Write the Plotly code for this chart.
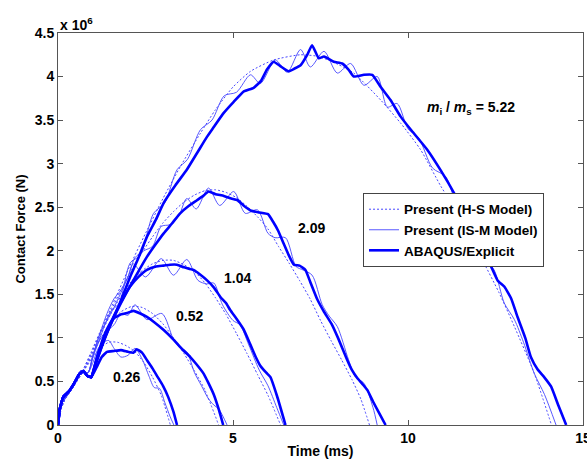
import plotly.graph_objects as go

# ---------------- data (time in ms, force in 1e6 N) ----------------
# mass ratio 0.26
HS_026_t = [0, 0.1, 0.25, 0.45, 0.7, 0.95, 1.2, 1.45, 1.7, 1.95, 2.2, 2.45, 2.7, 2.95, 3.21]
HS_026_y = [0, 0.2, 0.34, 0.45, 0.6, 0.75, 0.88, 0.95, 0.95, 0.91, 0.84, 0.72, 0.55, 0.34, 0]
ISM_026_t = [0, 0.1, 0.25, 0.45, 0.65, 0.85, 1.0, 1.15, 1.3, 1.45, 1.6, 1.8, 2.0, 2.2, 2.4, 2.6, 2.75, 2.9, 3.05, 3.2, 3.31]
ISM_026_y = [0, 0.25, 0.33, 0.45, 0.62, 0.6, 0.72, 0.88, 0.95, 0.97, 0.88, 0.78, 0.8, 0.88, 0.76, 0.56, 0.43, 0.42, 0.26, 0.1, 0]
AB_026_t = [0, 0.05, 0.15, 0.3, 0.45, 0.6, 0.72, 0.85, 0.95, 1.1, 1.25, 1.4, 1.6, 1.8, 2.0, 2.15, 2.25, 2.4, 2.55, 2.7, 2.85, 3.0, 3.15, 3.3, 3.4]
AB_026_y = [0, 0.18, 0.32, 0.38, 0.47, 0.58, 0.62, 0.56, 0.55, 0.66, 0.78, 0.84, 0.85, 0.86, 0.84, 0.83, 0.87, 0.83, 0.74, 0.65, 0.55, 0.45, 0.32, 0.15, 0]

# mass ratio 0.52
HS_052_t = [0, 0.1, 0.25, 0.45, 0.7, 0.95, 1.2, 1.5, 1.8, 2.1, 2.4, 2.7, 3.0, 3.3, 3.6, 3.9, 4.2, 4.59]
HS_052_y = [0, 0.2, 0.34, 0.45, 0.6, 0.78, 0.98, 1.17, 1.3, 1.36, 1.35, 1.28, 1.16, 1.0, 0.82, 0.62, 0.4, 0]
ISM_052_t = [0, 0.1, 0.25, 0.45, 0.65, 0.85, 1.0, 1.2, 1.4, 1.6, 1.8, 2.0, 2.2, 2.54, 2.97, 3.3, 3.45, 3.68, 3.9, 4.1, 4.3, 4.45, 4.6, 4.83]
ISM_052_y = [0, 0.25, 0.33, 0.45, 0.62, 0.6, 0.78, 0.98, 1.08, 1.15, 1.28, 1.26, 1.38, 1.21, 1.28, 0.98, 0.9, 0.84, 0.6, 0.45, 0.3, 0.23, 0.18, 0]
AB_052_t = [0, 0.05, 0.15, 0.3, 0.45, 0.6, 0.72, 0.85, 0.95, 1.1, 1.25, 1.4, 1.58, 1.8, 2.0, 2.16, 2.35, 2.54, 2.75, 3.02, 3.3, 3.48, 3.6, 3.78, 3.95, 4.16, 4.3, 4.45, 4.6, 4.72]
AB_052_y = [0, 0.18, 0.32, 0.38, 0.47, 0.58, 0.62, 0.56, 0.55, 0.75, 0.95, 1.1, 1.22, 1.27, 1.29, 1.31, 1.28, 1.24, 1.18, 1.09, 0.98, 0.9, 0.85, 0.78, 0.7, 0.59, 0.48, 0.35, 0.17, 0]

# mass ratio 1.04
HS_104_t = [0, 0.1, 0.25, 0.45, 0.7, 0.95, 1.2, 1.5, 1.8, 2.1, 2.4, 2.7, 3.0, 3.3, 3.6, 3.9, 4.2, 4.5, 4.8, 5.1, 5.4, 5.7, 6.0, 6.36]
HS_104_y = [0, 0.2, 0.34, 0.45, 0.6, 0.8, 1.02, 1.27, 1.48, 1.65, 1.77, 1.85, 1.89, 1.89, 1.84, 1.76, 1.63, 1.46, 1.27, 1.05, 0.82, 0.58, 0.34, 0]
ISM_104_t = [0, 0.1, 0.25, 0.45, 0.65, 0.85, 1.0, 1.2, 1.4, 1.6, 1.8, 2.0, 2.15, 2.5, 2.95, 3.3, 3.68, 4.0, 4.25, 4.45, 4.7, 5.0, 5.2, 5.45, 5.75, 6.0, 6.25, 6.45]
ISM_104_y = [0, 0.25, 0.33, 0.45, 0.62, 0.6, 0.8, 1.05, 1.2, 1.35, 1.52, 1.7, 1.85, 1.7, 1.91, 1.72, 1.9, 1.66, 1.62, 1.63, 1.38, 1.2, 1.15, 0.92, 0.63, 0.45, 0.2, 0]
AB_104_t = [0, 0.05, 0.15, 0.3, 0.45, 0.6, 0.72, 0.85, 0.95, 1.1, 1.25, 1.45, 1.68, 1.85, 2.06, 2.3, 2.54, 2.8, 3.02, 3.2, 3.4, 3.6, 3.87, 4.05, 4.26, 4.45, 4.64, 4.8, 4.92, 5.1, 5.3, 5.5, 5.65, 5.78, 5.95, 6.07, 6.26, 6.5]
AB_104_y = [0, 0.18, 0.32, 0.38, 0.47, 0.58, 0.62, 0.56, 0.55, 0.72, 0.9, 1.12, 1.32, 1.45, 1.59, 1.7, 1.78, 1.82, 1.83, 1.84, 1.84, 1.81, 1.78, 1.73, 1.66, 1.58, 1.47, 1.4, 1.32, 1.22, 1.1, 0.92, 0.78, 0.68, 0.6, 0.55, 0.33, 0]

# mass ratio 2.09
HS_209_t = [0, 0.1, 0.25, 0.45, 0.7, 0.95, 1.2, 1.5, 1.8, 2.1, 2.4, 2.7, 3.0, 3.3, 3.6, 3.9, 4.2, 4.5, 4.8, 5.1, 5.4, 5.7, 6.0, 6.3, 6.6, 6.9, 7.2, 7.5, 7.8, 8.1, 8.4, 8.65, 8.9]
HS_209_y = [0, 0.2, 0.34, 0.45, 0.62, 0.82, 1.05, 1.3, 1.55, 1.78, 1.98, 2.16, 2.32, 2.45, 2.56, 2.64, 2.69, 2.7, 2.67, 2.61, 2.51, 2.39, 2.25, 2.05, 1.86, 1.66, 1.45, 1.2, 0.97, 0.75, 0.52, 0.3, 0]
ISM_209_t = [0, 0.1, 0.25, 0.45, 0.65, 0.85, 1.0, 1.2, 1.4, 1.6, 1.8, 2.0, 2.2, 2.45, 2.7, 2.95, 3.2, 3.45, 3.68, 3.95, 4.3, 4.62, 5.02, 5.35, 5.7, 6.0, 6.2, 6.5, 6.8, 7.0, 7.26, 7.55, 7.75, 7.98, 8.3, 8.5, 8.74, 9.0, 9.12]
ISM_209_y = [0, 0.25, 0.33, 0.45, 0.62, 0.6, 0.8, 1.05, 1.28, 1.45, 1.55, 1.7, 1.92, 2.0, 2.05, 2.28, 2.3, 2.4, 2.6, 2.48, 2.72, 2.52, 2.68, 2.43, 2.47, 2.2, 2.15, 2.15, 1.82, 1.78, 1.72, 1.38, 1.25, 1.13, 0.75, 0.55, 0.48, 0.2, 0]
AB_209_t = [0, 0.05, 0.15, 0.3, 0.45, 0.6, 0.72, 0.85, 0.95, 1.1, 1.25, 1.5, 1.75, 2.0, 2.25, 2.54, 2.8, 3.02, 3.25, 3.49, 3.75, 3.97, 4.15, 4.3, 4.5, 4.74, 4.95, 5.13, 5.3, 5.52, 5.75, 6.0, 6.15, 6.29, 6.45, 6.58, 6.74, 6.9, 7.07, 7.2, 7.41, 7.6, 7.83, 8.0, 8.26, 8.4, 8.55, 8.7, 8.84, 9.0, 9.2, 9.36]
AB_209_y = [0, 0.18, 0.32, 0.38, 0.47, 0.58, 0.62, 0.56, 0.55, 0.74, 0.9, 1.15, 1.36, 1.55, 1.73, 1.93, 2.08, 2.2, 2.31, 2.43, 2.52, 2.58, 2.63, 2.68, 2.65, 2.63, 2.6, 2.58, 2.52, 2.46, 2.44, 2.42, 2.33, 2.23, 2.08, 1.96, 1.84, 1.83, 1.78, 1.65, 1.44, 1.3, 1.15, 1.0, 0.75, 0.63, 0.54, 0.47, 0.4, 0.27, 0.12, 0]

# mass ratio 5.22
HS_522_t = [0, 0.1, 0.25, 0.45, 0.7, 0.95, 1.2, 1.5, 2.0, 2.5, 3.0, 3.5, 4.07, 4.5, 5.0, 5.5, 6.16, 6.93, 7.45, 8.0, 8.45, 9.22, 9.8, 10.36, 10.94, 11.5, 12.08, 12.6, 13.04, 13.6, 14.1]
HS_522_y = [0, 0.2, 0.34, 0.45, 0.62, 0.84, 1.07, 1.33, 1.78, 2.2, 2.6, 2.97, 3.35, 3.62, 3.88, 4.06, 4.19, 4.25, 4.23, 4.14, 4.04, 3.73, 3.46, 3.16, 2.74, 2.38, 1.93, 1.52, 1.13, 0.6, 0]
ISM_522_t = [0, 0.1, 0.25, 0.45, 0.65, 0.85, 1.0, 1.2, 1.5, 1.75, 2.06, 2.35, 2.73, 3.05, 3.4, 3.7, 4.07, 4.4, 4.75, 5.1, 5.5, 5.78, 6.21, 6.55, 6.93, 7.21, 7.6, 7.98, 8.36, 8.74, 9.12, 9.41, 9.69, 10.0, 10.3, 10.7, 11.08, 11.4, 11.8, 12.1, 12.46, 12.75, 13.04, 13.3, 13.61, 13.9, 14.23]
ISM_522_y = [0, 0.25, 0.33, 0.45, 0.62, 0.6, 0.8, 1.0, 1.3, 1.4, 1.86, 1.95, 2.43, 2.55, 2.93, 3.05, 3.39, 3.5, 3.78, 3.82, 4.02, 3.92, 4.19, 4.05, 4.31, 4.11, 4.29, 4.04, 4.15, 3.9, 4.0, 3.65, 3.69, 3.4, 3.3, 2.95, 2.85, 2.5, 2.2, 1.95, 1.78, 1.4, 1.21, 0.95, 0.59, 0.35, 0]
AB_522_t = [0, 0.05, 0.15, 0.3, 0.45, 0.6, 0.72, 0.85, 0.95, 1.1, 1.2, 1.5, 1.75, 2.06, 2.3, 2.54, 2.8, 3.02, 3.35, 3.68, 4.0, 4.26, 4.45, 4.73, 5.02, 5.31, 5.59, 5.8, 5.97, 6.16, 6.35, 6.59, 6.75, 6.93, 7.12, 7.26, 7.45, 7.6, 7.88, 8.12, 8.3, 8.45, 8.74, 8.98, 9.22, 9.5, 9.79, 10.1, 10.55, 10.94, 11.32, 11.7, 12.08, 12.35, 12.56, 12.75, 12.95, 13.13, 13.35, 13.51, 13.7, 13.89, 14.09, 14.3, 14.52]
AB_522_y = [0, 0.18, 0.32, 0.38, 0.47, 0.58, 0.62, 0.56, 0.55, 0.76, 0.88, 1.15, 1.38, 1.7, 1.92, 2.16, 2.36, 2.55, 2.75, 2.93, 3.14, 3.31, 3.42, 3.58, 3.71, 3.83, 3.87, 3.95, 4.08, 4.17, 4.12, 4.06, 4.09, 4.13, 4.25, 4.36, 4.21, 4.23, 4.17, 4.15, 4.08, 4.0, 4.02, 4.02, 3.88, 3.73, 3.54, 3.38, 3.16, 2.92, 2.66, 2.36, 2.05, 1.84, 1.66, 1.59, 1.45, 1.24, 1.0, 0.78, 0.64, 0.55, 0.44, 0.22, 0]

series_names = ["Present (H-S Model)", "Present (IS-M Model)", "ABAQUS/Explicit"]
ratio_labels = ["0.26", "0.52", "1.04", "2.09"]
label_t = [1.95, 3.75, 5.14, 7.24]
label_f = [0.55, 1.25, 1.69, 2.26]
ratio_main = "5.22"
x_ticks = [0, 5, 10, 15]
y_ticks = [0, 0.5, 1, 1.5, 2, 2.5, 3, 3.5, 4, 4.5]
y_ticktext = ["0", "0.5", "1", "1.5", "2", "2.5", "3", "3.5", "4", "4.5"]

cases = [
    (HS_026_t, HS_026_y, ISM_026_t, ISM_026_y, AB_026_t, AB_026_y),
    (HS_052_t, HS_052_y, ISM_052_t, ISM_052_y, AB_052_t, AB_052_y),
    (HS_104_t, HS_104_y, ISM_104_t, ISM_104_y, AB_104_t, AB_104_y),
    (HS_209_t, HS_209_y, ISM_209_t, ISM_209_y, AB_209_t, AB_209_y),
    (HS_522_t, HS_522_y, ISM_522_t, ISM_522_y, AB_522_t, AB_522_y),
]

FONT = "Arial, 'Liberation Sans', sans-serif"
BLUE = "rgb(0,0,255)"
THIN = "rgb(70,70,255)"

fig = go.Figure()
for i, (hst, hsy, ist, isy, abt, aby) in enumerate(cases):
    first = (i == 0)
    fig.add_trace(go.Scatter(x=hst, y=hsy, mode="lines", name=series_names[0],
                             legendgroup="hs", showlegend=first,
                             line=dict(color=THIN, width=1, dash="2px,2px", shape="spline", smoothing=0.6)))
    fig.add_trace(go.Scatter(x=ist, y=isy, mode="lines", name=series_names[1],
                             legendgroup="ism", showlegend=first,
                             line=dict(color=THIN, width=0.9, shape="spline", smoothing=0.8)))
    fig.add_trace(go.Scatter(x=abt, y=aby, mode="lines", name=series_names[2],
                             legendgroup="ab", showlegend=first,
                             line=dict(color=BLUE, width=2.6, shape="spline", smoothing=0.4)))

annotations = []
for lab, tx, fy in zip(ratio_labels, label_t, label_f):
    annotations.append(dict(x=tx, y=fy, xref="x", yref="y", text="<b>%s</b>" % lab,
                            showarrow=False, font=dict(family=FONT, size=14, color="black")))
annotations.append(dict(x=11.8, y=3.64, xref="x", yref="y",
                        text="<b><i>m</i><sub>i</sub> / <i>m</i><sub>s</sub> = %s</b>" % ratio_main,
                        showarrow=False, font=dict(family=FONT, size=14, color="black")))
annotations.append(dict(x=0, y=1, xref="paper", yref="paper", xanchor="left", yanchor="bottom",
                        text="<b>x 10<sup>6</sup></b>", showarrow=False, yshift=-2,
                        font=dict(family=FONT, size=14, color="black")))

axis_common = dict(showline=True, linecolor="#555555", linewidth=1, mirror="ticks",
                   ticks="inside", ticklen=5, tickcolor="#555555", showgrid=False,
                   zeroline=False, ticklabeloverflow="allow",
                   tickfont=dict(family=FONT, size=14, color="black", weight="bold"))

fig.update_layout(
    width=587, height=459,
    margin=dict(l=58, r=4, t=33, b=34, autoexpand=False),
    paper_bgcolor="white", plot_bgcolor="white",
    showlegend=True,
    legend=dict(x=0.581, y=0.592, xanchor="left", yanchor="top",
                bgcolor="white", bordercolor="#444444", borderwidth=1,
                font=dict(family=FONT, size=13.5, color="black", weight="bold"),
                traceorder="grouped", tracegroupgap=0, itemwidth=30),
    xaxis=dict(range=[0, 15], tickvals=x_ticks, ticktext=[str(v) for v in x_ticks],
               title=dict(text="<b>Time (ms)</b>", standoff=4,
                          font=dict(family=FONT, size=14, color="black")),
               **axis_common),
    yaxis=dict(range=[0, 4.5], tickvals=y_ticks, ticktext=y_ticktext,
               title=dict(text="<b>Contact Force (N)</b>", standoff=6,
                          font=dict(family=FONT, size=13, color="black")),
               **axis_common),
    annotations=annotations,
)

fig.write_html("out.html")
